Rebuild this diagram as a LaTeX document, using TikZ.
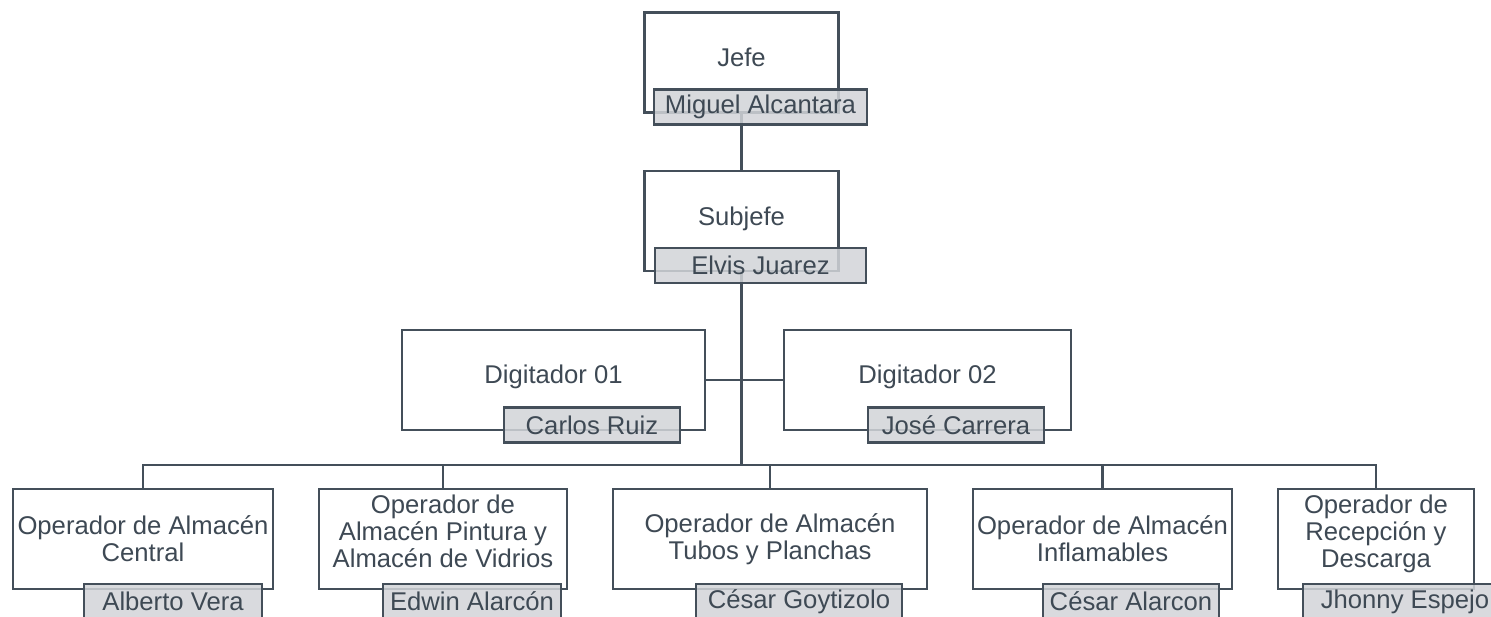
\documentclass[tikz,border=0pt]{standalone}
\usepackage{fontspec}
\setmainfont{Liberation Sans}
\usepackage{xcolor}
\usepackage{tikz}
\definecolor{edge}{RGB}{68, 79, 90}
\definecolor{ink}{RGB}{62, 73, 84}
\definecolor{tag}{RGB}{210, 212, 216}

\begin{document}
\begin{tikzpicture}[
    x=0.02cm, y=-0.02cm,
    unit/.style={draw=edge, line width=1.6pt, fill=white, minimum height=2cm, inner sep=0pt, align=center, text=ink, font=\fontsize{14.6}{15.3}\selectfont},
    holder/.style={draw=edge, line width=1.6pt, fill=tag, fill opacity=0.85, text opacity=1, minimum height=0.7cm, inner sep=0pt, text=ink, font=\fontsize{14.6}{15.3}\selectfont},
    link/.style={draw=edge, line width=1.6pt}
]
    \useasboundingbox (0,0) rectangle (1491,616);
    \clip (0,0) rectangle (1491,616);

    % Jefatura
    \node[unit, minimum width=3.88cm, text depth=6pt] (jefe) at (741.5,62.5) {Jefe};
    \node[unit, minimum width=3.88cm, text depth=6pt] (subjefe) at (741.5,221) {Subjefe};

    % Digitadores
    \node[unit, minimum width=6.06cm, text depth=7pt] (dig1) at (553.5,380) {Digitador 01};
    \node[unit, minimum width=5.74cm, text depth=7pt] (dig2) at (927.5,380) {Digitador 02};

    % Operadores
    \node[unit, minimum width=5.2cm] (op1) at (143,539) {Operador de Almacén\\Central};
    \node[unit, minimum width=4.96cm, text depth=9pt] (op2) at (443,539) {Operador de\\Almacén Pintura y\\Almacén de Vidrios};
    \node[unit, minimum width=6.28cm] (op3) at (770,539) {Operador de Almacén\\Tubos y Planchas};
    \node[unit, minimum width=5.18cm] (op4) at (1102.5,539) {Operador de Almacén\\Inflamables};
    \node[unit, minimum width=3.92cm, text depth=9pt] (op5) at (1376,539) {Operador de\\Recepción y\\Descarga};

    % Lineas
    \coordinate (bus) at (741.5,465);
    \draw[link] (jefe.south) -- (subjefe.north);
    \draw[link] (subjefe.south) -- (bus);
    \draw[link] (dig1.east) -- (dig2.west);
    \draw[link] (op1.north) |- (bus) -| (op5.north);
    \foreach \n in {op2,op3,op4}
        \draw[link] (\n.north) -- (\n.north |- bus);

    % Nombres
    \node[holder, minimum width=4.26cm] (jefen) at (760.5,107) {Miguel Alcantara};
    \node[holder, minimum width=4.22cm] (subjefen) at (760.5,265.5) {Elvis Juarez};
    \node[holder, minimum width=3.52cm] (dig1n) at (592,425) {Carlos Ruiz};
    \node[holder, minimum width=3.52cm] (dig2n) at (956,425) {José Carrera};
    \node[holder, minimum width=3.56cm] (op1n) at (173,601.5) {Alberto Vera};
    \node[holder, minimum width=3.56cm] (op2n) at (472,601.5) {Edwin Alarcón};
    \node[holder, minimum width=4.12cm] (op3n) at (799,601.5) {César Goytizolo};
    \node[holder, minimum width=3.52cm] (op4n) at (1131,601.5) {César Alarcon};
    \node[holder, minimum width=4.08cm] (op5n) at (1405,601.5) {Jhonny Espejo};
\end{tikzpicture}
\end{document}
